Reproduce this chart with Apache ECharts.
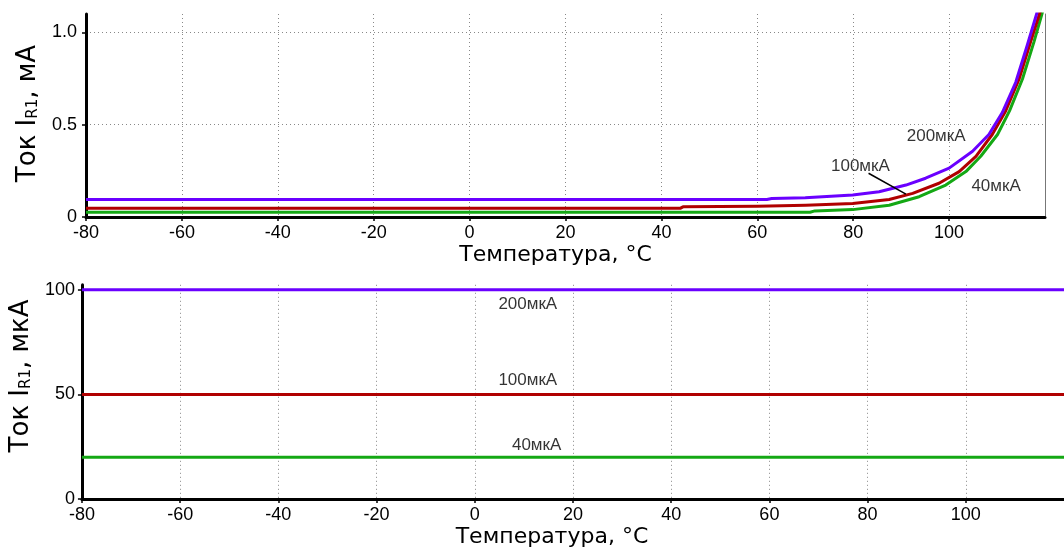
<!DOCTYPE html>
<html>
<head>
<meta charset="utf-8">
<script src="https://cdn.jsdelivr.net/npm/echarts@6/dist/echarts.min.js"></script>
<style>
html,body{margin:0;padding:0;background:#fff;}
#c{width:1064px;height:552px;}
</style>
</head>
<body>
<div id="c"></div>
<script>
// ---- Top chart (мА) ----
const blueX = [-80, 62, 63, 70, 79.9, 85.4, 91.0, 95.1, 100.0, 104.9, 108.3, 111.1, 113.9, 116.3, 118.3, 118.8];
const blueY = [0.095, 0.095, 0.1, 0.104, 0.119, 0.137, 0.173, 0.21, 0.265, 0.356, 0.447, 0.566, 0.73, 0.931, 1.104, 1.18];
const redX = [-80, 44, 44.5, 60, 70.1, 79.9, 87.5, 92.4, 97.9, 102.1, 105.6, 109.0, 111.8, 114.6, 117.0, 118.9, 119.4];
const redY = [0.048, 0.048, 0.055, 0.058, 0.064, 0.073, 0.095, 0.128, 0.183, 0.246, 0.329, 0.447, 0.575, 0.748, 0.949, 1.104, 1.18];
const greenX = [-80, 71, 72, 79.9, 87.5, 93.75, 99.3, 103.5, 106.6, 110.1, 112.6, 115.3, 117.7, 119.4, 119.9];
const greenY = [0.026, 0.026, 0.033, 0.04, 0.064, 0.11, 0.173, 0.246, 0.329, 0.447, 0.575, 0.748, 0.949, 1.104, 1.18];
const topLabels = ['200мкА', '100мкА', '40мкА'];
const topLabelX = [97.3, 81.5, 109.8];
const topLabelY = [0.436, 0.277, 0.164];
const leaderX = [83.2, 91.0];
const leaderY = [0.237, 0.124];

// ---- Bottom chart (мкА) ----
const bottomX = [-80, 120];
const bottomBlue = [100, 100];
const bottomRed = [50, 50];
const bottomGreen = [20, 20];
const bottomLabels = ['200мкА', '100мкА', '40мкА'];
const bottomLabelX = [10.8, 10.8, 12.6];
const bottomLabelY = [93.3, 56.7, 25.5];

const C_BLUE = '#6a00ff', C_RED = '#b00000', C_GREEN = '#14a814';
const zip = (xs, ys) => xs.map((x, i) => [x, ys[i]]);
const TICK_FONT = 'Liberation Sans';
const TITLE_FONT = 'DejaVu Sans';

function xAxisCfg(gridIndex, nameShift) {
  return {
    type: 'value', gridIndex, min: -80, max: 120, interval: 20,
    name: 'Температура, °C', nameLocation: 'middle', nameGap: 27,
    nameTextStyle: { fontFamily: TITLE_FONT, fontSize: 22, color: '#000', padding: [0, nameShift, 0, 0] },
    axisLine: { show: true, onZero: false, lineStyle: { color: '#000', width: 3 } },
    axisTick: { show: true, inside: false, length: 4, lineStyle: { color: '#000', width: 1.5 } },
    axisLabel: { fontFamily: TICK_FONT, fontSize: 18, color: '#000', margin: 7, showMaxLabel: false },
    splitLine: { show: true, showMaxLine: false, showMinLine: false, lineStyle: { color: '#888', type: [1, 3], width: 1 } }
  };
}

function yName(unit) {
  return '{t|Ток I}{s|R1}{t|, ' + unit + '}';
}
const yRich = {
  t: { fontFamily: TITLE_FONT, fontSize: 26, color: '#000' },
  s: { fontFamily: TITLE_FONT, fontSize: 15, color: '#000', verticalAlign: 'bottom' }
};

const curve = (xs, ys, color) => ({
  type: 'line', xAxisIndex: 0, yAxisIndex: 0, data: zip(xs, ys), showSymbol: false, clip: true,
  lineStyle: { color, width: 3, join: 'round' }
});

const option = {
  animation: false,
  backgroundColor: '#fff',
  grid: [
    { left: 86, right: 19, top: 14, bottom: 335, containLabel: false },
    { left: 73, right: -9, top: 284.8, bottom: 53, containLabel: false }
  ],
  xAxis: [xAxisCfg(0, 20), xAxisCfg(1, 42)],
  yAxis: [
    {
      type: 'value', gridIndex: 0, min: 0, max: 1.1, interval: 0.5,
      name: yName('мА'), nameLocation: 'middle', nameRotate: 90, nameGap: 34,
      nameTextStyle: { color: '#000', padding: [0, 0, 0, 4], rich: yRich },
      axisLine: { show: true, onZero: false, lineStyle: { color: '#000', width: 3 } },
      axisTick: { show: true, length: 4, lineStyle: { color: '#000', width: 1.5 } },
      axisLabel: { fontFamily: TICK_FONT, fontSize: 18, color: '#000', margin: 9, showMaxLabel: false,
        formatter: v => v === 0 ? '0' : v.toFixed(1) },
      splitLine: { show: true, showMaxLine: false, showMinLine: false, lineStyle: { color: '#888', type: [1, 3], width: 1 } }
    },
    {
      type: 'value', gridIndex: 0, position: 'right', min: 0, max: 1.1, interval: 0.5,
      axisLine: { show: true, onZero: false, lineStyle: { color: '#777', width: 1 } },
      axisTick: { show: false }, axisLabel: { show: false }, splitLine: { show: false }
    },
    {
      type: 'value', gridIndex: 1, min: 0, max: 102.4, interval: 50,
      name: yName('мкА'), nameLocation: 'middle', nameRotate: 90, nameGap: 37,
      nameTextStyle: { color: '#000', padding: [0, 0, 0, 32], rich: yRich },
      axisLine: { show: true, onZero: false, lineStyle: { color: '#000', width: 3 } },
      axisTick: { show: true, length: 4, lineStyle: { color: '#000', width: 1.5 } },
      axisLabel: { fontFamily: TICK_FONT, fontSize: 18, color: '#000', margin: 7, showMaxLabel: false },
      splitLine: { show: true, showMaxLine: false, showMinLine: false, lineStyle: { color: '#888', type: [1, 3], width: 1 } }
    }
  ],
  series: [
    curve(greenX, greenY, C_GREEN),
    curve(redX, redY, C_RED),
    curve(blueX, blueY, C_BLUE),
    { type: 'line', xAxisIndex: 0, yAxisIndex: 0, data: zip(leaderX, leaderY), showSymbol: false, lineStyle: { color: '#000', width: 1.5 } },
    { type: 'scatter', xAxisIndex: 0, yAxisIndex: 0, symbolSize: 1, itemStyle: { color: 'rgba(0,0,0,0)' },
      data: topLabels.map((t, i) => ({ value: [topLabelX[i], topLabelY[i]], name: t })),
      label: { show: true, position: 'inside', formatter: p => p.name, fontFamily: TICK_FONT, fontSize: 17, color: '#000', textBorderWidth: 0 } },

    { type: 'line', xAxisIndex: 1, yAxisIndex: 2, data: zip(bottomX, bottomGreen), showSymbol: false, lineStyle: { color: C_GREEN, width: 3 } },
    { type: 'line', xAxisIndex: 1, yAxisIndex: 2, data: zip(bottomX, bottomRed), showSymbol: false, lineStyle: { color: C_RED, width: 3 } },
    { type: 'line', xAxisIndex: 1, yAxisIndex: 2, data: zip(bottomX, bottomBlue), showSymbol: false, lineStyle: { color: C_BLUE, width: 3 } },
    { type: 'scatter', xAxisIndex: 1, yAxisIndex: 2, symbolSize: 1, itemStyle: { color: 'rgba(0,0,0,0)' },
      data: bottomLabels.map((t, i) => ({ value: [bottomLabelX[i], bottomLabelY[i]], name: t })),
      label: { show: true, position: 'inside', formatter: p => p.name, fontFamily: TICK_FONT, fontSize: 17, color: '#000', textBorderWidth: 0 } }
  ]
};
const chart = echarts.init(document.getElementById('c'), null, { renderer: 'canvas' });
chart.setOption(option);
</script>
</body>
</html>
